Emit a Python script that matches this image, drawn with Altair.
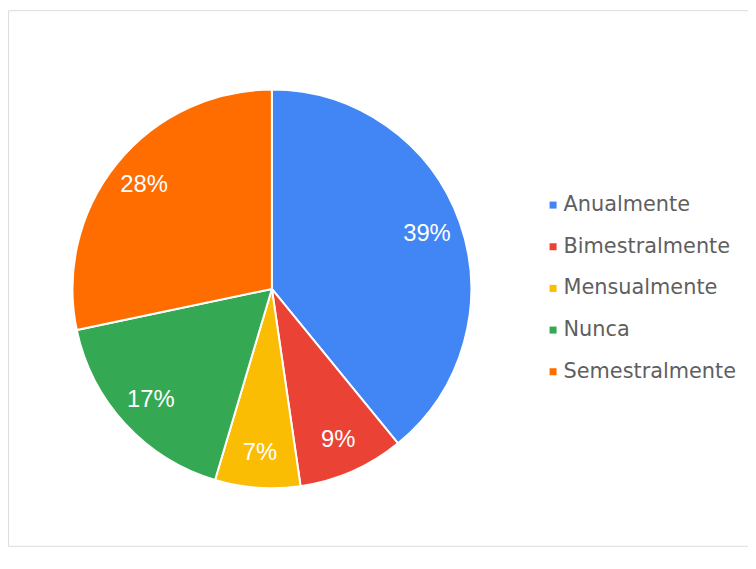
import altair as alt
import pandas as pd

categories = ["Anualmente", "Bimestralmente", "Mensualmente", "Nunca", "Semestralmente"]
values = [39.1, 8.6, 6.9, 17.1, 28.3]
labels = ["39%", "9%", "7%", "17%", "28%"]
colors = ["#4285F4", "#EA4335", "#FBBC04", "#34A853", "#FF6D01"]

df = pd.DataFrame({
    "cat": categories,
    "value": values,
    "label": labels,
    "order": list(range(len(categories))),
})

color = alt.Color(
    "cat:N",
    scale=alt.Scale(domain=categories, range=colors),
    sort=categories,
    legend=alt.Legend(
        title=None,
        orient="none",
        legendX=539,
        legendY=186,
        symbolType="square",
        symbolSize=50,
        symbolStrokeWidth=0,
        labelFont="DejaVu Sans",
        labelFontSize=21,
        labelColor="#5f5f5f",
        labelLimit=400,
        rowPadding=20,
        labelOffset=0,
        padding=0,
    ),
)

base = alt.Chart(df).encode(
    theta=alt.Theta("value:Q", stack=True),
    order=alt.Order("order:Q"),
    x=alt.value(266),
    y=alt.value(281),
)

pie = base.mark_arc(radius=201, stroke="white", strokeWidth=2).encode(color=color)

text = base.mark_text(
    radius=166,
    font="Liberation Sans",
    fontSize=24,
    color="white",
    align="center",
    baseline="middle",
).encode(text="label:N")

chart = (
    alt.layer(pie, text)
    .properties(
        width=746,
        height=540,
        padding=0,
        autosize=alt.AutoSizeParams(type="fit", contains="padding"),
    )
    .configure_view(stroke="#d9d9d9", strokeWidth=2)
    .configure(background="white")
)

chart.save("out.html", embed_options={"renderer": "svg", "actions": False})
